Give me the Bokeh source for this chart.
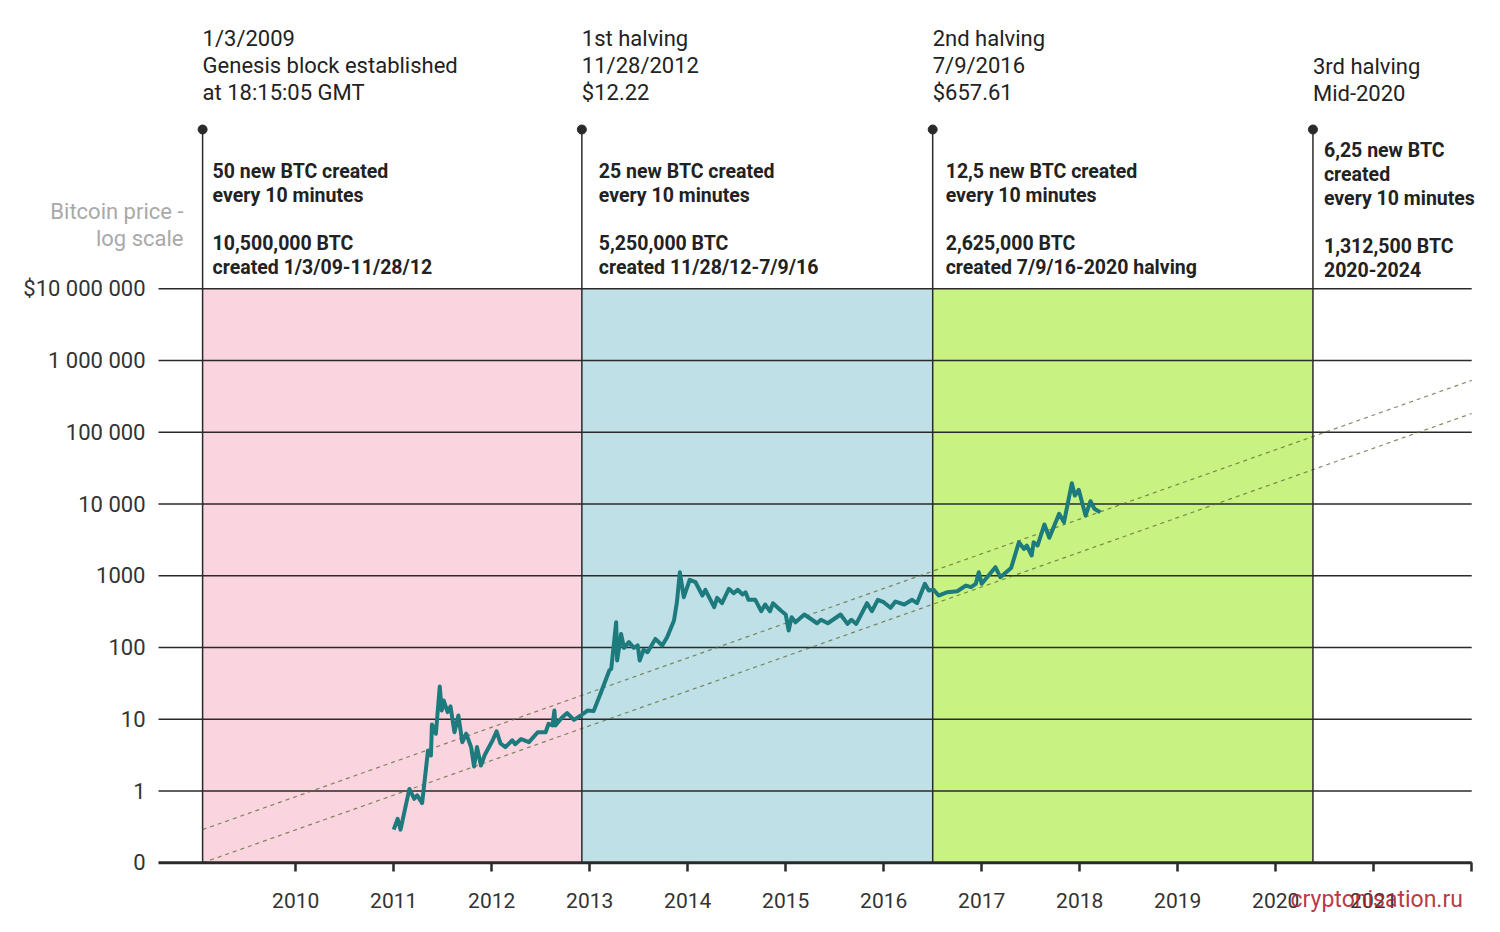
from bokeh.plotting import figure
from bokeh.models import Label, FixedTicker, Range1d, CustomJSTickFormatter
from bokeh.embed import file_html
from bokeh.resources import INLINE

# ---------------- data ----------------
PRICE_YEARS = [
    2011.00, 2011.04, 2011.07, 2011.16, 2011.21, 2011.24, 2011.29, 2011.35, 2011.38, 2011.39,
    2011.43, 2011.47, 2011.49, 2011.51, 2011.55, 2011.58, 2011.62, 2011.66, 2011.70, 2011.74,
    2011.79, 2011.82, 2011.85, 2011.89, 2011.93, 2012.01, 2012.05, 2012.09, 2012.14, 2012.21,
    2012.24, 2012.30, 2012.38, 2012.47, 2012.55, 2012.58, 2012.62, 2012.64, 2012.65, 2012.72,
    2012.77, 2012.84, 2012.91, 2012.98, 2013.04, 2013.11, 2013.20, 2013.22, 2013.27, 2013.28,
    2013.32, 2013.35, 2013.40, 2013.45, 2013.49, 2013.51, 2013.55, 2013.59, 2013.67, 2013.74,
    2013.79, 2013.86, 2013.89, 2013.92, 2013.96, 2014.02, 2014.08, 2014.15, 2014.18, 2014.27,
    2014.30, 2014.35, 2014.42, 2014.47, 2014.51, 2014.56, 2014.59, 2014.62, 2014.69, 2014.75,
    2014.79, 2014.84, 2014.87, 2014.95, 2015.00, 2015.03, 2015.06, 2015.10, 2015.19, 2015.32,
    2015.36, 2015.43, 2015.56, 2015.63, 2015.67, 2015.72, 2015.83, 2015.88, 2015.94, 2016.00,
    2016.07, 2016.12, 2016.21, 2016.29, 2016.34, 2016.42, 2016.46, 2016.51, 2016.56, 2016.65,
    2016.75, 2016.84, 2016.89, 2016.94, 2016.97, 2017.00, 2017.14, 2017.19, 2017.30, 2017.38,
    2017.43, 2017.46, 2017.51, 2017.53, 2017.57, 2017.64, 2017.69, 2017.79, 2017.84, 2017.92,
    2017.95, 2017.99, 2018.06, 2018.11, 2018.15, 2018.21,
]
PRICE_USD = [
    0.29, 0.41, 0.29, 1.07, 0.78, 0.87, 0.68, 3.67, 3.13, 8.47,
    6.28, 28.6, 13.3, 18.3, 12.6, 15.1, 6.6, 11.3, 4.8, 6.3,
    4.1, 2.2, 4.1, 2.27, 3.2, 5.1, 6.8, 4.6, 4.1, 5.1,
    4.5, 5.3, 4.8, 6.6, 6.6, 8.65, 8.2, 13.3, 8.2, 10.7,
    12.2, 9.8, 11.3, 13.3, 13.0, 22.7, 47.9, 50.6, 225, 66,
    155, 99, 119, 99, 107, 66, 93, 86, 132, 107,
    139, 238, 429, 1122, 503, 880, 814, 531, 638, 365,
    493, 415, 659, 572, 638, 548, 590, 463, 463, 321,
    398, 321, 415, 328, 289, 173, 265, 225, 289, 218,
    244, 218, 289, 214, 244, 214, 415, 321, 463, 429,
    358, 438, 398, 463, 415, 774, 624, 638, 531, 590,
    610, 732, 693, 774, 1122, 774, 1318, 955, 1285, 2940,
    2377, 2643, 1918, 2940, 2643, 5190, 3388, 7310, 5585, 19540,
    13150, 15810, 6920, 10960, 8590, 7690,
]

EVENT_YEARS = [2009.05, 2012.92, 2016.50, 2020.38]
ERA_STARTS = [2009.05, 2012.92, 2016.50]
ERA_ENDS = [2012.92, 2016.50, 2020.38]
ERA_COLORS = ["#FAD4DE", "#BEE0E6", "#C8F282"]

EVENT_TITLES = [
    "1/3/2009\nGenesis block established\nat 18:15:05 GMT",
    "1st halving\n11/28/2012\n$12.22",
    "2nd halving\n7/9/2016\n$657.61",
    "3rd halving\nMid-2020",
]
EVENT_NOTES = [
    "50 new BTC created\nevery 10 minutes\n\n10,500,000 BTC\ncreated 1/3/09-11/28/12",
    "25 new BTC created\nevery 10 minutes\n\n5,250,000 BTC\ncreated 11/28/12-7/9/16",
    "12,5 new BTC created\nevery 10 minutes\n\n2,625,000 BTC\ncreated 7/9/16-2020 halving",
    "6,25 new BTC\ncreated\nevery 10 minutes\n\n1,312,500 BTC\n2020-2024",
]

TREND_YEARS = [2009.05, 2022.0]
TREND_UPPER = [0.29, 530000]
TREND_LOWER = [0.1, 183000]

Y_TICKS = [0.1, 1, 10, 100, 1000, 10000, 100000, 1000000, 10000000]
Y_TICK_LABELS = ["0", "1", "10", "100", "1000", "10 000", "100 000", "1 000 000", "$10 000 000"]
X_TICKS = [2010, 2011, 2012, 2013, 2014, 2015, 2016, 2017, 2018, 2019, 2020, 2021, 2022]
X_TICK_LABELS = ["2010", "2011", "2012", "2013", "2014", "2015", "2016", "2017", "2018",
                 "2019", "2020", "2021", ""]

# ---------------- layout (pixel positions on the page) ----------------
W, H = 1500, 932
AXIS_LEFT_PX = 158          # where the value axis sits
X0 = 2008.6                 # year at AXIS_LEFT_PX
PX_PER_YEAR = 98.0
ZERO_PX = 862.3             # page y of the "0" (0.1) line
PX_PER_DECADE = 71.75


def x_at(px):
    return X0 + (px - AXIS_LEFT_PX) / PX_PER_YEAR


def y_at(py):
    return 10 ** (-1 + (ZERO_PX - py) / PX_PER_DECADE)


FONT = "Roboto"
DARK = "#2a2a2a"

# the frame covers the whole canvas, the axes are pinned inside it
p = figure(width=W, height=H, output_backend="svg", toolbar_location=None,
           y_axis_type="log", title=None,
           x_range=Range1d(x_at(0), x_at(W)),
           y_range=Range1d(y_at(H), y_at(0)),
           min_border_left=0, min_border_right=0, min_border_top=0, min_border_bottom=0)
p.outline_line_color = None
p.xgrid.visible = False
p.ygrid.visible = False
p.background_fill_color = "white"
p.border_fill_color = "white"

# axes
p.xaxis.fixed_location = Y_TICKS[0]
p.xaxis.ticker = FixedTicker(ticks=X_TICKS, minor_ticks=[])
p.xaxis.formatter = CustomJSTickFormatter(
    args=dict(tvals=X_TICKS, tlabels=X_TICK_LABELS),
    code="const i = tvals.indexOf(Math.round(tick)); return i < 0 ? '' : tlabels[i];")
p.xaxis.axis_line_color = None
p.xaxis.major_tick_out = 9
p.xaxis.major_tick_in = 0
p.xaxis.major_tick_line_width = 2.5
p.xaxis.major_tick_line_color = DARK
p.xaxis.minor_tick_line_color = None
p.xaxis.major_label_text_font = FONT
p.xaxis.major_label_text_font_size = "21px"
p.xaxis.major_label_text_color = "#333333"
p.xaxis.major_label_standoff = 21

p.yaxis.fixed_location = X0
p.yaxis.ticker = FixedTicker(ticks=Y_TICKS, minor_ticks=[])
p.yaxis.formatter = CustomJSTickFormatter(
    args=dict(tvals=Y_TICKS, tlabels=Y_TICK_LABELS),
    code="""
let best = 0, d = 1e99;
for (let i = 0; i < tvals.length; i++) {
  const e = Math.abs(Math.log10(tick) - Math.log10(tvals[i]));
  if (e < d) { d = e; best = i; }
}
return tlabels[best];
""")
p.yaxis.axis_line_color = None
p.yaxis.major_tick_line_color = None
p.yaxis.minor_tick_line_color = None
p.yaxis.major_label_text_font = FONT
p.yaxis.major_label_text_font_size = "22px"
p.yaxis.major_label_text_color = "#333333"
p.yaxis.major_label_standoff = 7

# eras
p.quad(left=ERA_STARTS, right=ERA_ENDS, bottom=Y_TICKS[0], top=Y_TICKS[-1],
       fill_color=ERA_COLORS, line_color=None)

# horizontal grid lines
p.segment(x0=X0, x1=X_TICKS[-1], y0=Y_TICKS[1:], y1=Y_TICKS[1:],
          line_color=DARK, line_width=1.5)

# trend lines
for ys in (TREND_UPPER, TREND_LOWER):
    p.line(TREND_YEARS, ys, line_color="#5a6830", line_alpha=0.75,
           line_width=1.2, line_dash="4 4")

# event vertical lines + dots
TOP_MARK = y_at(129)
p.segment(x0=EVENT_YEARS, x1=EVENT_YEARS, y0=Y_TICKS[0], y1=TOP_MARK,
          line_color=DARK, line_width=1.5)
p.scatter(EVENT_YEARS, [TOP_MARK] * len(EVENT_YEARS), size=9, color=DARK)

# price line
p.line(PRICE_YEARS, PRICE_USD, line_color="#1D7A7D", line_width=4, line_join="round")

# baseline axis line
p.segment(x0=X0, x1=X_TICKS[-1], y0=Y_TICKS[0], y1=Y_TICKS[0],
          line_color=DARK, line_width=3)

# texts
TITLE_TOPS = [25, 25, 25, 53]
NOTE_TOPS = [159, 159, 159, 138]
NOTE_OFFSETS = [10, 17, 13, 11]
for yr, t, top in zip(EVENT_YEARS, EVENT_TITLES, TITLE_TOPS):
    p.add_layout(Label(x=yr, y=y_at(top), text=t, text_font=FONT, text_font_size="22px",
                       text_color="#222222", text_align="left", text_baseline="top",
                       text_line_height=1.09))
for yr, t, top, off in zip(EVENT_YEARS, EVENT_NOTES, NOTE_TOPS, NOTE_OFFSETS):
    p.add_layout(Label(x=yr, y=y_at(top), x_offset=off, text=t, text_font=FONT,
                       text_font_size="19.5px", text_font_style="bold",
                       text_color="#222222", text_align="left", text_baseline="top",
                       text_line_height=1.05))

p.add_layout(Label(x=x_at(183), y=y_at(198), text="Bitcoin price -\nlog scale",
                   text_font=FONT, text_font_size="22px", text_color="#A9A9A9",
                   text_align="right", text_baseline="top", text_line_height=1.09))

p.add_layout(Label(x=x_at(1290), y=y_at(899), text="cryptonisation.ru",
                   text_font=FONT, text_font_size="23px", text_color="#B0202E",
                   text_alpha=0.9, text_align="left", text_baseline="middle",
                   level="overlay"))

open("out.html", "w").write(file_html(p, INLINE))
